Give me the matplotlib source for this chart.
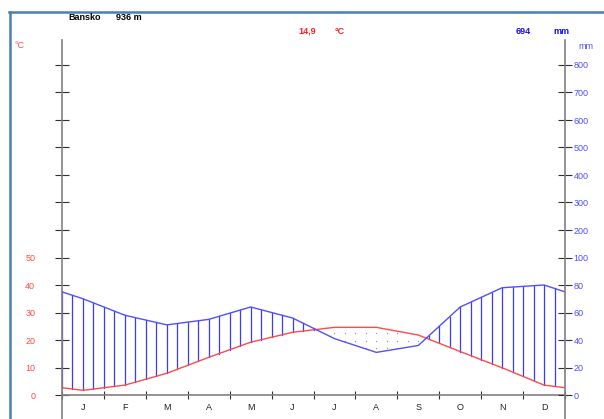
import numpy as np
import matplotlib
matplotlib.use("Agg")
import matplotlib.pyplot as plt
from matplotlib.lines import Line2D

station = "Bansko"
altitude = "936 m"
mean_temp_text = "14,9"
total_precip_text = "694"
months = ['J', 'F', 'M', 'A', 'M', 'J', 'J', 'A', 'S', 'O', 'N', 'D']
temp = [1.7, 3.6, 7.9, 13.7, 19.2, 22.8, 24.6, 24.6, 21.8, 15.8, 9.9, 3.6]
precip = [70, 58, 51, 55, 64, 56, 41, 31, 36, 64, 78, 80]
temp_ticks = [0, 10, 20, 30, 40, 50]
precip_ticks = [0, 20, 40, 60, 80, 100, 200, 300, 400, 500, 600, 700, 800]

RED = '#ff4a4a'
BLUE = '#5050ff'
HATCH = '#3a3aff'
FONT = 'Liberation Sans'

def mm_to_t(mm):
    mm = np.asarray(mm, dtype=float)
    return np.where(mm <= 100, mm / 2.0, 50 + (mm - 100) / 10.0)

W, H = 604, 419
fig = plt.figure(figsize=(W / 100, H / 100), dpi=100)

# axes placement (pixels)
x0, x1 = 62, 565
ytop, ybot = 40, 419
y_zero = 395
ppu = 2.75  # pixels per degree
ax = fig.add_axes([x0 / W, 0, (x1 - x0) / W, (ybot - ytop) / H])
ax.set_xlim(0, 12)
ax.set_ylim(-(ybot - y_zero) / ppu, (y_zero - ytop) / ppu)
ax.patch.set_alpha(0)

# extended series (wrap Dec/Jan at edges)
xs = np.concatenate([[0], np.arange(12) + 0.5, [12]])
t_ext = np.concatenate([[(temp[0] + temp[-1]) / 2], temp, [(temp[0] + temp[-1]) / 2]])
p_mm = np.concatenate([[(precip[0] + precip[-1]) / 2], precip, [(precip[0] + precip[-1]) / 2]])
p_ext = mm_to_t(p_mm)

# humid hatching
hx = np.arange(0, 48.01) * 0.25
ht = np.interp(hx, xs, t_ext)
hp = np.interp(hx, xs, p_ext)
for x, a, b in zip(hx, ht, hp):
    if b > a:
        ax.plot([x, x], [a, b], color=HATCH, lw=0.9, zorder=2)

# arid dots
fx = np.linspace(0, 12, 2401)
ft = np.interp(fx, xs, t_ext)
fp = np.interp(fx, xs, p_ext)
dot_x, dot_y = [], []
for yrow in [17.0, 19.75, 22.5]:
    for x in hx:
        tt = np.interp(x, xs, t_ext)
        pp = np.interp(x, xs, p_ext)
        if pp < yrow < tt:
            dot_x.append(x)
            dot_y.append(yrow)
ax.scatter(dot_x, dot_y, s=0.8, color='#909090', zorder=2, linewidths=0)

ax.plot(xs, t_ext, color=RED, lw=1.0, zorder=3)
ax.plot(xs, p_ext, color=BLUE, lw=1.0, zorder=3)

# spines
for s in ['top', 'right']:
    ax.spines[s].set_visible(False)
ax.spines['left'].set_color('#808080')
ax.spines['left'].set_linewidth(1.2)
ax.spines['bottom'].set_position(('data', 0))
ax.spines['bottom'].set_color('#808080')
ax.spines['bottom'].set_linewidth(1.2)

ytick_pos = np.arange(0, 121, 10)
ax.set_yticks(ytick_pos)
ax.set_yticklabels([str(v) if v in temp_ticks else '' for v in ytick_pos],
                   color=RED, fontsize=6.5, family=FONT)
ax.tick_params(axis='y', direction='inout', length=9.5, width=0.8, color='#303030', pad=14.5)

ax.set_xticks(np.arange(0, 13))
ax.set_xticklabels([])
ax.set_xticks(np.arange(12) + 0.5, minor=True)
ax.set_xticklabels(months, minor=True, fontsize=6.5, family=FONT, color='#202020')
ax.tick_params(axis='x', which='major', direction='inout', length=5.5, width=0.8, color='#303030')
ax.tick_params(axis='x', which='minor', length=0, pad=6)

ax2 = ax.twinx()
ax2.set_ylim(ax.get_ylim())
for s in ['top', 'left', 'bottom']:
    ax2.spines[s].set_visible(False)
ax2.spines['right'].set_color('#808080')
ax2.spines['right'].set_linewidth(1.2)
ax2.set_yticks(mm_to_t(precip_ticks))
ax2.set_yticklabels([str(v) for v in precip_ticks], color=BLUE, fontsize=6.5, family=FONT)
ax2.tick_params(axis='y', direction='inout', length=9.5, width=0.8, color='#303030', pad=1.5)

# frame lines (blue border)
fig.add_artist(Line2D([9.5 / W, 9.5 / W], [0, 1 - 12 / H], color='#4a7ebb', lw=1.8))
fig.add_artist(Line2D([9 / W, 1], [1 - 12.5 / H, 1 - 12.5 / H], color='#4a7ebb', lw=1.8))

def ftext(px, py, s, **kw):
    fig.text(px / W, 1 - py / H, s, family=FONT, va='center', **kw)

ftext(68, 17, station, fontsize=6.5, weight='bold', color='black')
ftext(116, 17, altitude, fontsize=6.5, weight='bold', color='black')
ftext(15, 45, '°C', fontsize=6.5, color=RED)
ftext(298, 31, mean_temp_text, fontsize=6.5, weight='bold', color='#ff2020')
ftext(335, 31, '°C', fontsize=6.5, weight='bold', color='#ff2020')
ftext(516, 31, total_precip_text, fontsize=6.5, weight='bold', color='#1010ff')
ftext(553, 31, 'mm', fontsize=6.5, weight='bold', color='#1010ff')
ftext(578, 46, 'mm', fontsize=6.5, color=BLUE)

fig.savefig('out.png', dpi=100)
